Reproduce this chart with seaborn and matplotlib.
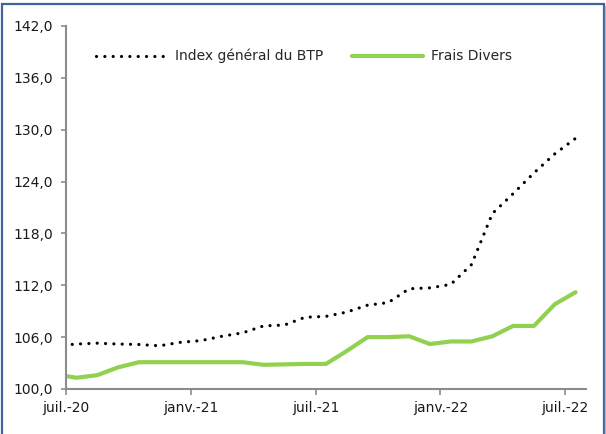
import pandas as pd
import matplotlib
matplotlib.use("Agg")
import matplotlib.pyplot as plt
import matplotlib.ticker as mticker
from matplotlib.lines import Line2D
import seaborn as sns

# === DATA === (monthly, positions in months from juil.-20; first point sits half a month before the axis start)
months = [-0.5, 0.5, 1.5, 2.5, 3.5, 4.5, 5.5, 6.5, 7.5, 8.5, 9.5, 10.5, 11.5,
          12.5, 13.5, 14.5, 15.5, 16.5, 17.5, 18.5, 19.5, 20.5, 21.5, 22.5, 23.5, 24.5]
index_btp = [105.0, 105.2, 105.3, 105.2, 105.15, 105.0, 105.4, 105.6, 106.1, 106.5, 107.3, 107.4, 108.3,
             108.4, 108.9, 109.7, 110.0, 111.6, 111.7, 112.1, 114.4, 120.3, 122.6, 125.0, 127.2, 129.0]
frais_divers = [101.7, 101.3, 101.6, 102.5, 103.1, 103.1, 103.1, 103.1, 103.1, 103.1, 102.8, 102.85, 102.9,
                102.9, 104.4, 106.0, 106.0, 106.1, 105.2, 105.5, 105.5, 106.1, 107.3, 107.3, 109.8, 111.2]
tick_pos = [0, 6, 12, 18, 24]
tick_labels = ["juil.-20", "janv.-21", "juil.-21", "janv.-22", "juil.-22"]

df = pd.DataFrame({"mois": months, "Index général du BTP": index_btp, "Frais Divers": frais_divers})

sns.set_style("white")
plt.rcParams["font.family"] = ["DejaVu Sans"]

fig = plt.figure(figsize=(6.06, 4.34), dpi=100)
ax = fig.add_axes([0.1089, 0.1037, 0.858, 0.8364])

sns.lineplot(data=df, x="mois", y="Index général du BTP", ax=ax, color="black",
             linewidth=2.3, label="Index général du BTP",
             linestyle=(0, (0.01, 2.6)), dash_capstyle="round")
sns.lineplot(data=df, x="mois", y="Frais Divers", ax=ax, color="#92D050",
             linewidth=3.0, label="Frais Divers", solid_capstyle="round")

ax.set_xlim(0, 25)
ax.set_ylim(100, 142)
ax.set_yticks([100, 106, 112, 118, 124, 130, 136, 142])
ax.yaxis.set_major_formatter(mticker.FuncFormatter(lambda v, p: f"{v:.1f}".replace(".", ",")))
ax.set_xticks(tick_pos)
ax.set_xticklabels(tick_labels)
ax.set_xlabel("")
ax.set_ylabel("")

for side in ["top", "right"]:
    ax.spines[side].set_visible(False)
for side in ["left", "bottom"]:
    ax.spines[side].set_color("#8c8c8c")
    ax.spines[side].set_linewidth(1.5)

ax.tick_params(axis="y", direction="out", length=3.5, width=1.2, color="#8c8c8c",
               pad=6, labelsize=10, labelcolor="#1a1a1a", left=True)
ax.tick_params(axis="x", direction="out", length=4, width=1.2, color="#8c8c8c",
               pad=5, labelsize=10, labelcolor="#1a1a1a", bottom=True)

ax.legend(loc="center left", bbox_to_anchor=(0.058, 0.917), ncol=2, frameon=False,
          handlelength=5.1, handletextpad=0.55, columnspacing=2.1,
          borderaxespad=0, borderpad=0, fontsize=10)

# chart frame: left, top and right edges only (bottom is cut off in the original)
border = "#3f65a0"
x0, x1, ytop = 2.5 / 606, 603.5 / 606, 1 - 3.5 / 434
fig.add_artist(Line2D([x0, x0, x1, x1], [0, ytop, ytop, 0], transform=fig.transFigure,
                      color=border, linewidth=1.6, solid_joinstyle="miter"))
fig.add_artist(Line2D([x1 + 1.5 / 606] * 2, [0, ytop - 2 / 434], transform=fig.transFigure,
                      color="#9db3d3", linewidth=1.0))

fig.savefig("out.png", dpi=100)
plt.close(fig)
